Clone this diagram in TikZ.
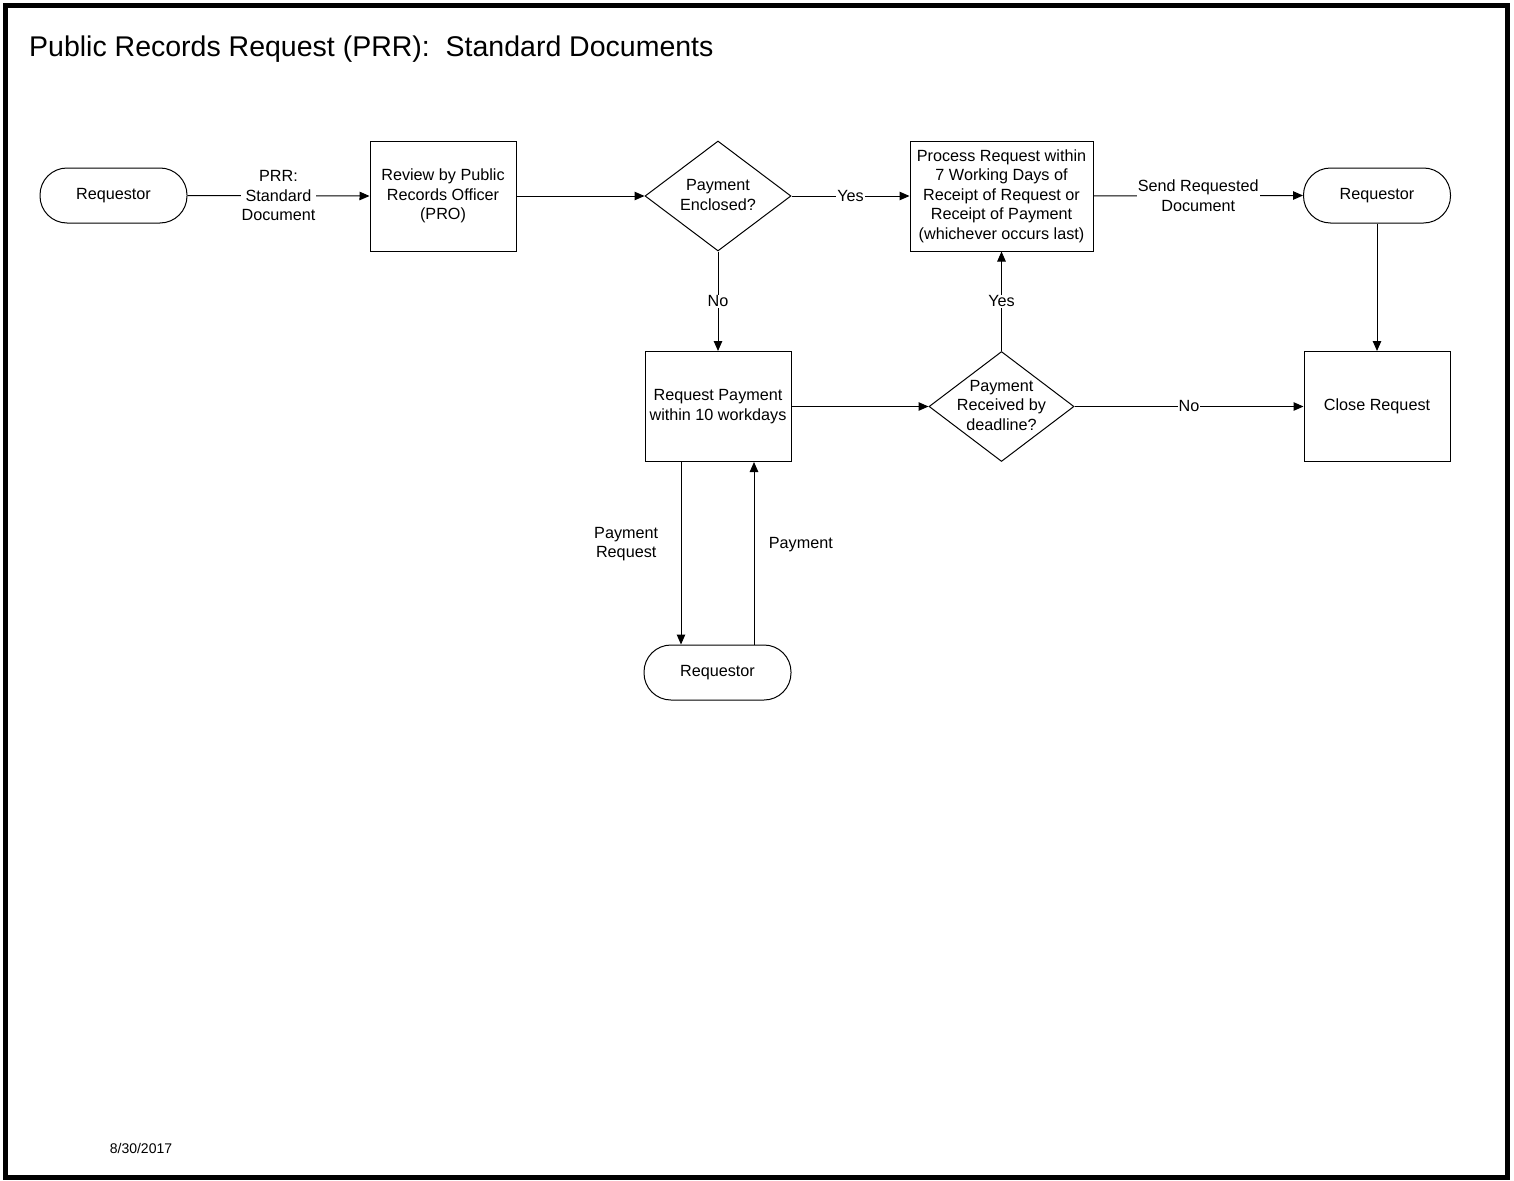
\documentclass[tikz,border=0pt]{standalone}
\usepackage{fontspec}
\setmainfont{Liberation Sans}
\usetikzlibrary{shapes.geometric,arrows.meta}
\begin{document}
\begin{tikzpicture}[x=1pt,y=-1pt,
  every node/.style={font=\fontsize{16.2}{19.5}\selectfont, align=center},
  box/.style={draw, line width=1pt, rectangle, minimum width=146pt, minimum height=110pt, inner sep=0pt},
  term/.style={draw, line width=1pt, rectangle, rounded corners=27pt, minimum width=147pt, minimum height=55pt, inner sep=0pt},
  dec/.style={draw, line width=1pt, diamond, minimum width=146pt, minimum height=110pt, inner sep=0pt},
  flow/.style={line width=1pt, -{Triangle[length=10pt,width=8.5pt]}},
  lbl/.style={fill=white, inner sep=1pt},
]
\useasboundingbox (0,0) rectangle (1514,1180);
\draw[line width=5pt] (5,6) rectangle (1507,1177);

\node[anchor=west, inner sep=0pt, font=\fontsize{28.5}{32}\selectfont] (title) at (29,49) {Public Records Request (PRR):\ \ Standard Documents};
\node[font=\fontsize{14}{16}\selectfont] (date) at (141,1148) {8/30/2017};

% nodes
\node[term] (r1) at (113.5,195.5) {Requestor};
\node[box] (rev) at (443,196) {Review by Public\\Records Officer\\(PRO)};
\node[dec] (d1) at (718,196) {};
\node (d1t) at (718,195) {Payment\\Enclosed?};
\node[box, minimum width=183pt] (proc) at (1001.5,196) {Process Request within\\7 Working Days of\\Receipt of Request or\\Receipt of Payment\\(whichever occurs last)};
\node[term] (r2) at (1377,195.5) {Requestor};
\node[box] (rp) at (718,406.5) {Request Payment\\within 10 workdays};
\node[dec, minimum width=145pt] (d2) at (1001.5,406.5) {};
\node (d2t) at (1001.5,405.5) {Payment\\Received by\\deadline?};
\node[box] (close) at (1377,406.5) {Close Request};
\node[term] (r3) at (717.5,672.5) {Requestor};

% connectors
\draw[flow] (r1.east) -- node[lbl] {PRR:\\Standard\\Document} (rev.west);
\draw[flow] (rev.east) -- (d1.west);
\draw[flow] (d1.east) -- node[lbl] {Yes} (proc.west);
\draw[flow] (proc.east) -- node[lbl] {Send Requested\\Document} (r2.west);
\draw[flow] (d1.south) -- node[lbl] {No} (rp.north);
\draw[flow] (rp.east) -- (d2.west);
\draw[flow] (d2.north) -- node[lbl] {Yes} (proc.south);
\draw[flow] (d2.east) -- node[lbl] {No} (close.west);
\draw[flow] (r2.south) -- (close.north);
\draw[flow] ([xshift=-37pt]rp.south) -- node[left=19pt, pos=0.45] {Payment\\Request} ([xshift=-36.5pt]r3.north);
\draw[flow] ([xshift=36.5pt]r3.north) -- node[right=11pt, pos=0.55] {Payment} ([xshift=36pt]rp.south);
\end{tikzpicture}
\end{document}
